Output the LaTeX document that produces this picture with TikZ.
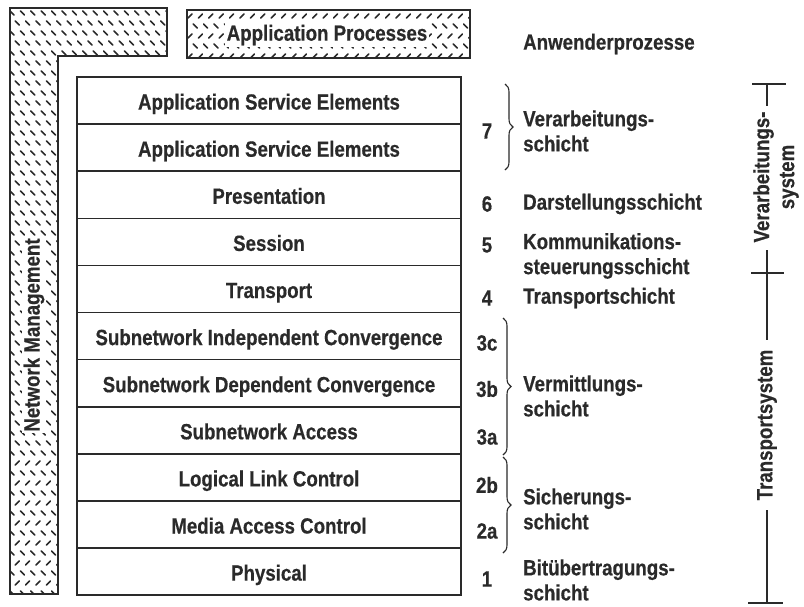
\documentclass[tikz,border=0pt]{standalone}
\usepackage{fontspec}
\setmainfont{Liberation Sans}[FakeStretch=0.85,FakeBold=0.5]
\usetikzlibrary{decorations.pathreplacing}
\definecolor{ink}{HTML}{2A2A2A}
\begin{document}
\begin{tikzpicture}[x=1pt,y=-1pt,
  every node/.style={font=\fontsize{22}{25}\selectfont\bfseries, text=ink},
  layer/.style={draw=ink, line width=1.6pt, minimum width=384pt, minimum height=47.1pt,
                inner sep=0pt, text height=19pt, text depth=1pt},
  frame/.style={draw=ink, line width=1.8pt},
  hatch/.style={draw=ink, line width=1.6pt, line cap=round},
  num/.style={anchor=center},
  lbl/.style={anchor=west, align=left, inner sep=0pt},
  axis/.style={draw=ink, line width=1.5pt},
  bracestyle/.style={draw=ink, line width=1.1pt, decorate, decoration={brace, amplitude=8pt}},
  clearlbl/.style={fill=white, inner sep=1.5pt}
]
\useasboundingbox (0,0) rectangle (804,606);

% --- Network Management: hatched L-shaped band ---
\begin{scope}
  \clip (10,8) -- (167,8) -- (167,56) -- (58,56) -- (58,594) -- (10,594) -- cycle;
  \foreach \r in {0,...,59} {
    \foreach \c in {0,...,16} {
      \pgfmathsetmacro\xx{12 + \c*10.4 + mod(\r,2)*5.2}
      \pgfmathsetmacro\yy{13 + \r*10}
      \ifnum\r>43
        \ifodd\r
          \draw[hatch] (\xx-2,\yy+2) -- (\xx+2,\yy-2);
        \else
          \draw[hatch] (\xx-2,\yy-2) -- (\xx+2,\yy+2);
        \fi
      \else
        \draw[hatch] (\xx-2,\yy-2) -- (\xx+2,\yy+2);
      \fi
    }
  }
\end{scope}
\draw[frame] (10,8) -- (167,8) -- (167,56) -- (58,56) -- (58,594) -- (10,594) -- cycle;
\node[clearlbl, rotate=90] (nm) at (34,335) {Network Management};

% --- Application Processes: hatched box ---
\begin{scope}
  \clip (187,10) rectangle (470,58);
  \foreach \r in {0,...,4} {
    \foreach \c in {0,...,28} {
      \pgfmathsetmacro\xx{190 + \c*10.4 + mod(\r,2)*5.2}
      \pgfmathsetmacro\yy{16 + \r*10}
      \ifodd\r
        \draw[hatch] (\xx-2,\yy-2) -- (\xx+2,\yy+2);
      \else
        \draw[hatch] (\xx-2,\yy+2) -- (\xx+2,\yy-2);
      \fi
    }
  }
\end{scope}
\draw[frame] (187,10) rectangle (470,58);
\node[clearlbl] (ap) at (327,35) {Application Processes};
\node[lbl] (apde) at (523,44) {Anwenderprozesse};

% --- Layer stack ---
\node[layer] (ase1)  at (269,100.6) {Application Service Elements};
\node[layer] (ase2)  at (269,147.7) {Application Service Elements};
\node[layer] (pres)  at (269,194.8) {Presentation};
\node[layer] (sess)  at (269,241.9) {Session};
\node[layer] (trans) at (269,289.0) {Transport};
\node[layer] (sic)   at (269,336.1) {Subnetwork Independent Convergence};
\node[layer] (sdc)   at (269,383.2) {Subnetwork Dependent Convergence};
\node[layer] (sna)   at (269,430.3) {Subnetwork Access};
\node[layer] (llc)   at (269,477.4) {Logical Link Control};
\node[layer] (mac)   at (269,524.5) {Media Access Control};
\node[layer] (phys)  at (269,571.6) {Physical};

% --- Layer numbers ---
\node[num] (n7)  at (487,131) {7};
\node[num] (n6)  at (487,204) {6};
\node[num] (n5)  at (487,245) {5};
\node[num] (n4)  at (487,298) {4};
\node[num] (n3c) at (487,343) {3c};
\node[num] (n3b) at (487,389) {3b};
\node[num] (n3a) at (487,437) {3a};
\node[num] (n2b) at (487,485) {2b};
\node[num] (n2a) at (487,531) {2a};
\node[num] (n1)  at (487,579) {1};

% --- Braces grouping sublayers ---
\coordinate (b7t) at (505,84);  \coordinate (b7b) at (505,170);
\coordinate (b3t) at (503,318); \coordinate (b3b) at (503,455);
\coordinate (b2t) at (503,457); \coordinate (b2b) at (503,553);
\draw[bracestyle] (b7t) -- (b7b);
\draw[bracestyle] (b3t) -- (b3b);
\draw[bracestyle] (b2t) -- (b2b);

% --- German layer names ---
\node[lbl] (d7) at (523,131) {Verarbeitungs-\\schicht};
\node[lbl] (d6) at (523,204) {Darstellungsschicht};
\node[lbl] (d5) at (523,256) {Kommunikations-\\steuerungsschicht};
\node[lbl] (d4) at (523,298) {Transportschicht};
\node[lbl] (d3) at (523,396) {Vermittlungs-\\schicht};
\node[lbl] (d2) at (523,509) {Sicherungs-\\schicht};
\node[lbl] (d1) at (523,580) {Bitübertragungs-\\schicht};

% --- System scale on the right ---
\coordinate (vtop) at (767,84);
\coordinate (v1)   at (767,106);
\coordinate (v2)   at (767,250);
\coordinate (vmid) at (767,273);
\coordinate (v3)   at (767,340);
\coordinate (v4)   at (767,510);
\coordinate (vbot) at (767,603);
\node[rotate=90, align=center] (vsys) at (776,177) {Verarbeitungs-\\system};
\node[rotate=90] (tsys) at (767,425) {Transportsystem};
\draw[axis] ([xshift=-15pt]vtop) -- ([xshift=19pt]vtop);
\draw[axis] (vtop) -- (v1);
\draw[axis] (v2) -- (v3);
\draw[axis] ([xshift=-16pt]vmid) -- ([xshift=17pt]vmid);
\draw[axis] (v4) -- (vbot);
\draw[axis] ([xshift=-19pt]vbot) -- ([xshift=16pt]vbot);
\end{tikzpicture}
\end{document}
